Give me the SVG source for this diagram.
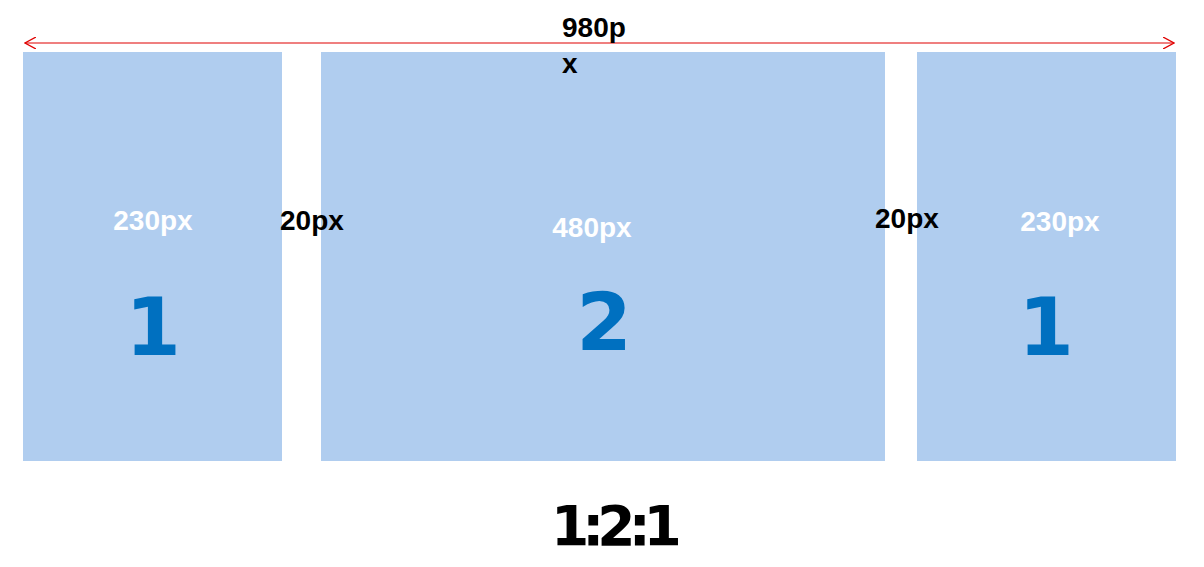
<svg xmlns="http://www.w3.org/2000/svg" width="1204" height="567" viewBox="0 0 1204 567">
<style>
.box{fill:#B0CDEF}
.w{fill:#FFFFFF;font-family:"Liberation Sans",Arial,sans-serif;font-weight:bold;font-size:28px;text-anchor:middle}
.k{fill:#000000;font-family:"Liberation Sans",Arial,sans-serif;font-weight:bold;font-size:28px}
.big{fill:#0070C0;font-family:"DejaVu Sans",sans-serif;font-weight:bold;font-size:80px;text-anchor:middle}
</style>
<defs>
<marker id="ah" viewBox="0 0 12 12" refX="11" refY="6" markerWidth="12" markerHeight="12" markerUnits="userSpaceOnUse" orient="auto-start-reverse">
<path d="M0,0 L11,6 L0,12" fill="none" stroke="#E00000" stroke-width="1.3"/>
</marker>
</defs>
<g id="box-left">
<rect class="box" x="23" y="52" width="259" height="409"/>
<text class="w" x="153" y="230">230px</text>
<text class="big" x="153" y="355">1</text>
</g>
<g id="box-middle">
<rect class="box" x="321" y="52" width="564" height="409"/>
<text class="w" x="592" y="237">480px</text>
<text class="big" x="604" y="350">2</text>
</g>
<g id="box-right">
<rect class="box" x="917" y="52" width="259" height="409"/>
<text class="w" x="1060" y="231">230px</text>
<text class="big" x="1046" y="355">1</text>
</g>
<g id="connectors">
<line x1="25" y1="43" x2="1174" y2="43" stroke="#E00000" stroke-width="1.2" marker-start="url(#ah)" marker-end="url(#ah)"/>
</g>
<g id="labels">
<text class="k" x="562" y="37">980p</text>
<text class="k" x="562" y="73">x</text>
<text class="k" x="280" y="230">20px</text>
<text class="k" x="875" y="228">20px</text>
<text x="613" y="545" font-family="DejaVu Sans,sans-serif" font-weight="bold" font-size="55" text-anchor="middle" letter-spacing="-7">1:2:1</text>
</g>
</svg>
